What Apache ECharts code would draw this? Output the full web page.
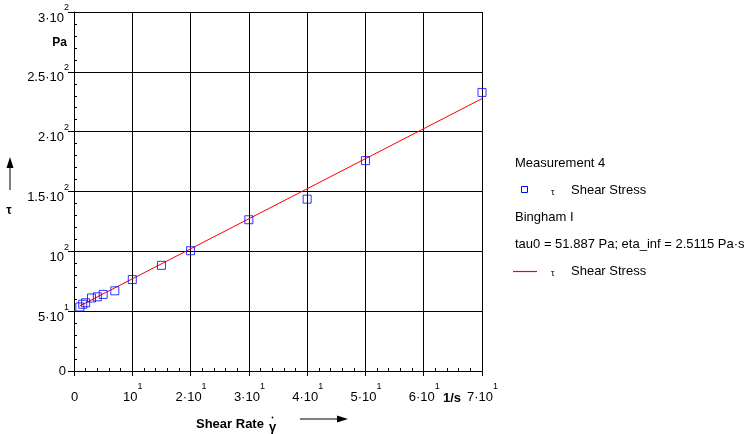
<!DOCTYPE html>
<html>
<head>
<meta charset="utf-8">
<script src="https://cdn.jsdelivr.net/npm/echarts@6/dist/echarts.min.js"></script>
<style>
html,body{margin:0;padding:0;background:#fff;}
#chart{width:750px;height:434px;}
</style>
</head>
<body>
<div id="chart"></div>
<script>
// ---- data ----
const shearRate   = [1, 1.5, 2, 3, 4, 5, 7, 10, 15, 20, 30, 40, 50, 70];
const shearStress = [53.5, 55.8, 57, 61, 62, 64, 67, 76.4, 88.3, 100.5, 126.4, 143.6, 175.8, 232.8];
// Bingham I fit line (end points)
const fitRate   = [1, 70];
const fitStress = [54.4, 227.6];

// tick labels
const xTicks    = [0, 10, 20, 30, 40, 50, 60, 70];
const xTickBase = ['0', '10', '2·10', '3·10', '4·10', '5·10', '6·10', '7·10'];
const xTickExp  = ['', '1', '1', '1', '1', '1', '1', '1'];
const yTicks    = [0, 50, 100, 150, 200, 250, 300];
const yTickBase = ['0', '5·10', '10', '1.5·10', '2·10', '2.5·10', '3·10'];
const yTickExp  = ['', '1', '2', '2', '2', '2', '2'];

const legendHeader1 = 'Measurement 4';
const legendHeader2 = 'Bingham I';
const legendParams  = 'tau0 = 51.887 Pa; eta_inf = 2.5115 Pa·s';
const seriesLabel   = 'Shear Stress';

const FONT = "'Liberation Sans', Arial, sans-serif";

function makeRich(h) {
  return {
    sp: { fontSize: 13, lineHeight: h, fontFamily: FONT },
    b:  { fontSize: 13, lineHeight: 15, verticalAlign: 'bottom', color: '#000', fontFamily: FONT },
    s:  { fontSize: 9, lineHeight: 10, verticalAlign: 'top', color: '#000', fontFamily: FONT },
    z:  { fontSize: 13, lineHeight: 13, color: '#000', fontFamily: FONT, padding: [0, 3, 4, 0] }
  };
}

function xFmt(v) {
  const i = xTicks.indexOf(v);
  if (i < 0) return '';
  return '{sp|\u200a}{b|' + xTickBase[i] + '}' + (xTickExp[i] ? '{s|' + xTickExp[i] + '}' : '');
}
function yFmt(v) {
  const i = yTicks.indexOf(v);
  if (i < 0) return '';
  if (!yTickExp[i]) return '{z|' + yTickBase[i] + '}';
  return '{sp|\u200a}{b|' + yTickBase[i] + '}{s|' + yTickExp[i] + '}';
}

const black = '#000';
const chart = echarts.init(document.getElementById('chart'), null, { renderer: 'canvas' });

const gridPos = { left: 74, right: 268, top: 12, bottom: 63, containLabel: false };

const option = {
  animation: false,
  backgroundColor: '#fff',
  textStyle: { fontFamily: FONT },
  grid: [Object.assign({}, gridPos), Object.assign({}, gridPos)],
  xAxis: [
    {
      type: 'value', gridIndex: 0, min: 0, max: 70, interval: 10,
      axisLine: { show: true, onZero: false, lineStyle: { color: black, width: 1 } },
      axisTick: { show: true, inside: false, length: 5, lineStyle: { color: black } },
      axisLabel: { show: true, margin: 11, formatter: xFmt, rich: makeRich(22), color: black },
      splitLine: { show: true, lineStyle: { color: black, width: 1 } }
    },
    {
      type: 'value', gridIndex: 1, min: 0, max: 70, interval: 2,
      axisLine: { show: false, onZero: false },
      axisTick: { show: true, inside: true, length: 3, lineStyle: { color: black } },
      axisLabel: { show: false },
      splitLine: { show: false }
    }
  ],
  yAxis: [
    {
      type: 'value', gridIndex: 0, min: 0, max: 300, interval: 50,
      axisLine: { show: true, onZero: false, lineStyle: { color: black, width: 1 } },
      axisTick: { show: true, inside: false, length: 6, lineStyle: { color: black } },
      axisLabel: { show: true, margin: 5, padding: [4, 0, 0, 0], formatter: yFmt, rich: makeRich(21), color: black },
      splitLine: { show: true, lineStyle: { color: black, width: 1 } }
    },
    {
      type: 'value', gridIndex: 1, min: 0, max: 300, interval: 10,
      axisLine: { show: false, onZero: false },
      axisTick: { show: true, inside: true, length: 3, lineStyle: { color: black } },
      axisLabel: { show: false },
      splitLine: { show: false }
    }
  ],
  series: [
    {
      name: 'Bingham I',
      type: 'line',
      xAxisIndex: 0, yAxisIndex: 0,
      data: fitRate.map((x, i) => [x, fitStress[i]]),
      showSymbol: false,
      lineStyle: { color: '#ff0000', width: 1 },
      z: 3
    },
    {
      name: 'Measurement 4',
      type: 'scatter',
      xAxisIndex: 0, yAxisIndex: 0,
      data: shearRate.map((x, i) => [x, shearStress[i]]),
      symbol: 'rect',
      symbolSize: 8,
      itemStyle: { color: 'rgba(0,0,0,0)', borderColor: '#0000ff', borderWidth: 1 },
      z: 4
    }
  ],
  graphic: [
    // axis names
    { type: 'text', style: { x: 67, y: 43, text: 'Pa', align: 'right', verticalAlign: 'middle', font: "bold 12px " + FONT, fill: black } },
    { type: 'text', style: { x: 443, y: 398, text: '1/s', align: 'left', verticalAlign: 'middle', font: "bold 13px " + FONT, fill: black } },
    { type: 'text', style: { x: 196, y: 424, text: 'Shear Rate', align: 'left', verticalAlign: 'middle', font: "bold 13px " + FONT, fill: black } },
    { type: 'text', style: { x: 269, y: 427, text: 'γ', align: 'left', verticalAlign: 'middle', font: "bold 13px " + FONT, fill: black } },
    { type: 'circle', shape: { cx: 272.5, cy: 417.5, r: 0.9 }, style: { fill: black } },
    // x arrow
    { type: 'rect', shape: { x: 300, y: 418.5, width: 40, height: 1 }, style: { fill: black } },
    { type: 'polygon', shape: { points: [[337, 415.5], [348, 419], [337, 422.5]] }, style: { fill: black } },
    // y arrow
    { type: 'rect', shape: { x: 9.5, y: 166, width: 1, height: 24 }, style: { fill: black } },
    { type: 'polygon', shape: { points: [[6.5, 168], [10, 157], [13.5, 168]] }, style: { fill: black } },
    { type: 'text', style: { x: 9, y: 211, text: 'τ', align: 'center', verticalAlign: 'middle', font: "bold 12px " + FONT, fill: black } },
    // legend
    { type: 'text', style: { x: 515, y: 163, text: legendHeader1, align: 'left', verticalAlign: 'middle', font: "13px " + FONT, fill: black } },
    { type: 'rect', shape: { x: 521.5, y: 186.5, width: 6, height: 6 }, style: { fill: 'none', stroke: '#0000ff', lineWidth: 1 } },
    { type: 'text', style: { x: 551, y: 193, text: 'τ', align: 'left', verticalAlign: 'middle', font: "9px " + FONT, fill: black } },
    { type: 'text', style: { x: 571, y: 190, text: seriesLabel, align: 'left', verticalAlign: 'middle', font: "13px " + FONT, fill: black } },
    { type: 'text', style: { x: 515, y: 217, text: legendHeader2, align: 'left', verticalAlign: 'middle', font: "13px " + FONT, fill: black } },
    { type: 'text', style: { x: 515, y: 244, text: legendParams, align: 'left', verticalAlign: 'middle', font: "13px " + FONT, fill: black } },
    { type: 'polyline', z: 100, shape: { points: [[513, 271.5], [537, 271.5]] }, style: { stroke: 'rgb(255,0,0)', lineWidth: 1.2, fill: null } },
    { type: 'text', style: { x: 551, y: 274, text: 'τ', align: 'left', verticalAlign: 'middle', font: "9px " + FONT, fill: black } },
    { type: 'text', style: { x: 571, y: 271, text: seriesLabel, align: 'left', verticalAlign: 'middle', font: "13px " + FONT, fill: black } }
  ]
};
chart.setOption(option);
</script>
</body>
</html>
